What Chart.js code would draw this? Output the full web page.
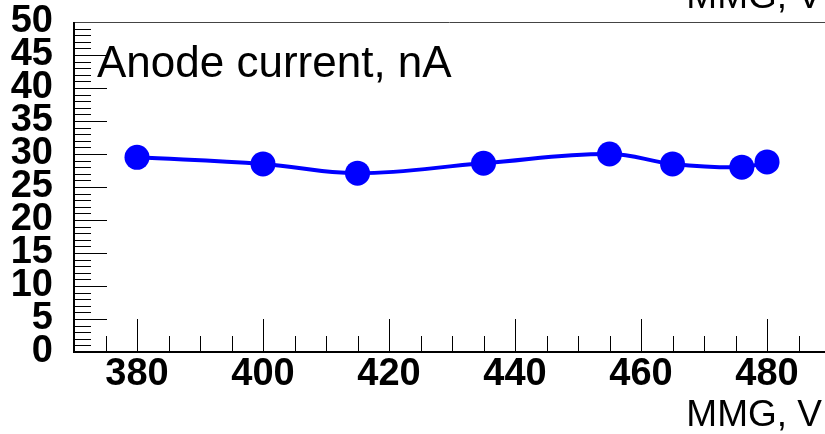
<!DOCTYPE html>
<html>
<head>
<meta charset="utf-8">
<script src="https://cdn.jsdelivr.net/npm/chart.js@4"></script>
<style>
html,body{margin:0;padding:0;background:#fff;overflow:hidden;}
#wrap{width:825px;height:434px;position:relative;}
</style>
</head>
<body>
<div id="wrap"><canvas id="c" width="825" height="434"></canvas></div>
<script>
// Data
const mmgVoltage = [380, 400, 415, 435, 455, 465, 476, 480];
const anodeCurrent = [29.5, 28.5, 27.1, 28.6, 30.0, 28.5, 28.0, 28.8];
const xTickLabels = [380, 400, 420, 440, 460, 480];
const yTickLabels = [0, 5, 10, 15, 20, 25, 30, 35, 40, 45, 50];
const yTitle = 'Anode current, nA';
const xTitle = 'MMG, V';

const rootTicks = {
  id: 'rootTicks',
  afterDraw(chart) {
    const ctx = chart.ctx, a = chart.chartArea;
    const xs = chart.scales.x, ys = chart.scales.y;
    ctx.save();
    // frame: top line
    ctx.strokeStyle = '#444';
    ctx.lineWidth = 1;
    ctx.beginPath();
    ctx.moveTo(a.left, a.top + 0.5);
    ctx.lineTo(a.right, a.top + 0.5);
    ctx.stroke();
    // axes
    ctx.strokeStyle = '#000';
    ctx.lineWidth = 2;
    ctx.beginPath();
    ctx.moveTo(a.left, a.top);
    ctx.lineTo(a.left, a.bottom);
    ctx.lineTo(a.right, a.bottom);
    ctx.stroke();
    // y ticks (inward)
    ctx.lineWidth = 1;
    ctx.beginPath();
    for (let v = 1; v < 50; v++) {
      const y = Math.round(ys.getPixelForValue(v)) + 0.5;
      const len = (v % 5 === 0) ? 33 : 17;
      ctx.moveTo(a.left, y);
      ctx.lineTo(a.left + len, y);
    }
    // x ticks (inward)
    for (let v = 375; v < xs.max; v += 5) {
      const x = Math.round(xs.getPixelForValue(v)) + 0.5;
      const len = (v % 20 === 0) ? 33 : 16;
      ctx.moveTo(x, a.bottom);
      ctx.lineTo(x, a.bottom - len);
    }
    ctx.stroke();
    // titles
    ctx.fillStyle = '#000';
    ctx.textBaseline = 'alphabetic';
    ctx.font = '44px "Liberation Sans", Arial, sans-serif';
    ctx.textAlign = 'left';
    ctx.fillText(yTitle, 97, 77);
    ctx.font = '37px "Liberation Sans", Arial, sans-serif';
    ctx.textAlign = 'right';
    ctx.fillText(xTitle, 822, 426);
    // cropped title of the panel above
    ctx.fillText(xTitle, 822, 8);
    ctx.restore();
  }
};

new Chart(document.getElementById('c'), {
  type: 'line',
  data: {
    datasets: [{
      data: mmgVoltage.map((v, i) => ({x: v, y: anodeCurrent[i]})),
      borderColor: '#0000ff',
      backgroundColor: '#0000ff',
      borderWidth: 4,
      pointRadius: 12.5,
      pointHoverRadius: 12.5,
      pointBorderWidth: 0,
      tension: 0.4
    }]
  },
  options: {
    responsive: false,
    animation: false,
    events: [],
    layout: {autoPadding: false, padding: {top: 22, right: 0, left: 0, bottom: 0}},
    plugins: {legend: {display: false}, tooltip: {enabled: false}},
    scales: {
      x: {
        type: 'linear',
        min: 370,
        max: 489.2,
        afterBuildTicks(s) { s.ticks = xTickLabels.map(v => ({value: v})); },
        afterFit(s) { s.height = 82; s.paddingLeft = 0; s.paddingRight = 0; s.paddingTop = 0; s.paddingBottom = 0; },
        border: {display: false},
        grid: {display: false, drawTicks: false},
        ticks: {
          autoSkip: false,
          maxRotation: 0,
          padding: 0,
          color: '#000',
          font: {family: '"Liberation Sans", Arial, sans-serif', size: 38, weight: 'bold'}
        }
      },
      y: {
        type: 'linear',
        min: 0,
        max: 50,
        afterBuildTicks(s) { s.ticks = yTickLabels.map(v => ({value: v})); },
        afterFit(s) { s.width = 74; s.paddingLeft = 0; s.paddingRight = 0; s.paddingTop = 0; s.paddingBottom = 0; },
        border: {display: false},
        grid: {display: false, drawTicks: false},
        ticks: {
          autoSkip: false,
          padding: 21,
          color: '#000',
          font: {family: '"Liberation Sans", Arial, sans-serif', size: 38, weight: 'bold'}
        }
      }
    }
  },
  plugins: [rootTicks]
});
</script>
</body>
</html>
